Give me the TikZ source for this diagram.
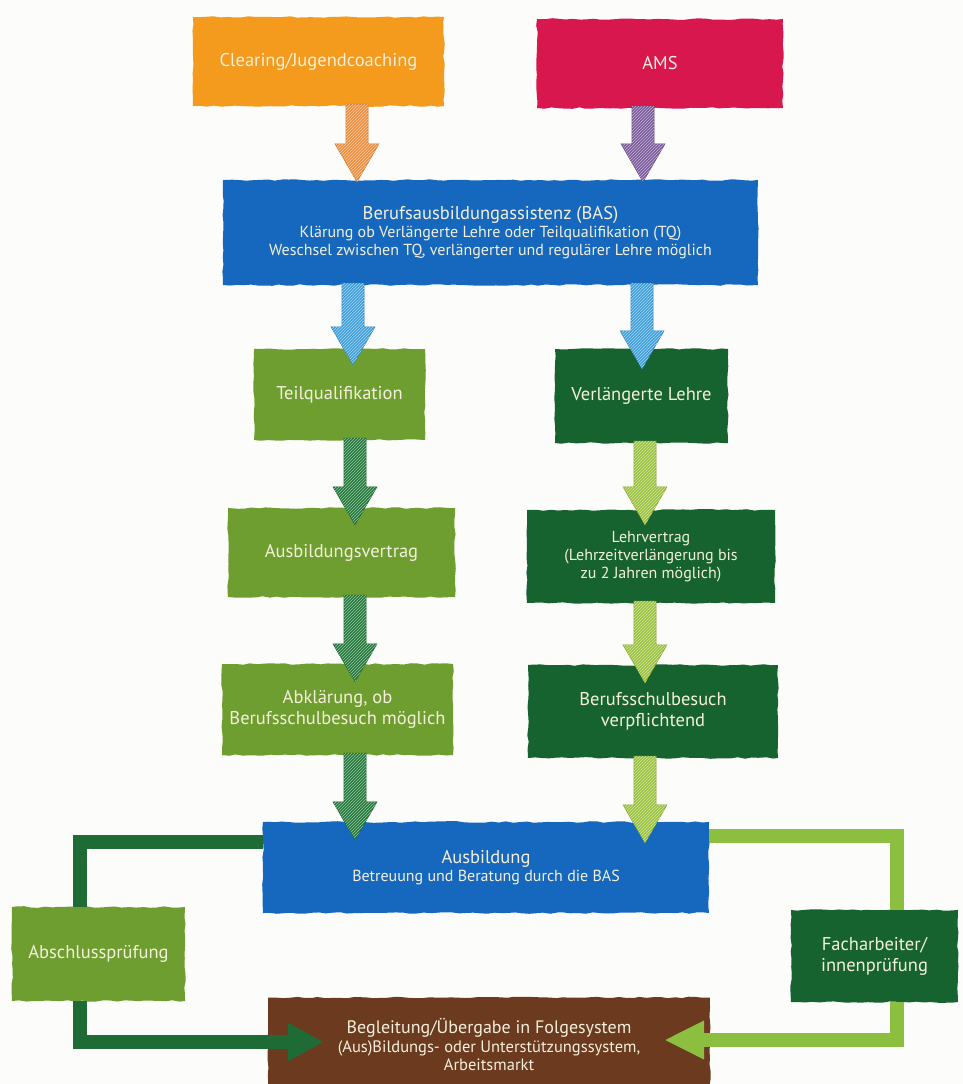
\documentclass[tikz,border=0pt]{standalone}
\usepackage{fontspec}
\setmainfont{PT Sans}
\usetikzlibrary{arrows.meta,calc,patterns,decorations.pathmorphing}
\definecolor{cBg}{HTML}{FCFCFA}
\definecolor{cText}{HTML}{F4F0DC}
\definecolor{cOrange}{HTML}{F49A1C}
\definecolor{cMagenta}{HTML}{D8174F}
\definecolor{cBlue}{HTML}{1667BE}
\definecolor{cLight}{HTML}{6E9E30}
\definecolor{cDark}{HTML}{17632F}
\definecolor{cBrown}{HTML}{6B3A1F}
\definecolor{aOrange}{HTML}{EE8E3E}
\definecolor{aPurple}{HTML}{7B5B9C}
\definecolor{aBlue}{HTML}{3E9FDA}
\definecolor{aDark}{HTML}{247A3C}
\definecolor{aLight}{HTML}{9CC23E}
\definecolor{lDark}{HTML}{1E6B35}
\definecolor{lLight}{HTML}{8CBF3F}
\newcommand\titf{\fontsize{18.5}{21}\selectfont}
\newcommand\subf{\fontsize{16}{18}\selectfont}
\newcommand\midf{\fontsize{16.5}{18.5}\selectfont}
\tikzset{
  box/.style={rectangle, inner sep=2pt, align=center, text=cText, font=\titf,
    decorate, decoration={random steps, segment length=7pt, amplitude=0.8pt}},
  loopline/.style={line width=14pt, line join=miter, line cap=butt},
}
\newcommand\fatarrow[4]{%
  \path[fill=#1, draw=#1!85!black, line width=0.6pt,
        postaction={pattern=north east lines, pattern color=white!55!#1}]
    let \p1=(#2), \p2=(#3) in
    (\x1-11,\y1+2) -- (\x1-11,\y2-#4+38) -- (\x1-22,\y2-#4+38) -- (\x1,\y2-#4)
    -- (\x1+22,\y2-#4+38) -- (\x1+11,\y2-#4+38) -- (\x1+11,\y1+2) -- cycle;}
\begin{document}
\begin{tikzpicture}[x=1pt,y=-1pt]
\useasboundingbox (0,0) rectangle (963,1084);
\fill[cBg] (0,0) rectangle (963,1084);

% boxes
\node[box, fill=cOrange, minimum width=251pt, minimum height=89pt] (clear) at (318.5,61.5) {Clearing/Jugendcoaching};
\node[box, fill=cMagenta, minimum width=246pt, minimum height=89pt] (ams) at (660,63.5) {AMS};
\node[box, fill=cBlue, minimum width=535pt, minimum height=105pt, font=\subf] (bas) at (490.5,232.5)
  {{\titf Berufsausbildungassistenz (BAS)}\\Klärung ob Verlängerte Lehre oder Teilqualifikation (TQ)\\Weschsel zwischen TQ, verlängerter und regulärer Lehre möglich};
\node[box, fill=cLight, minimum width=171pt, minimum height=91pt] (teil) at (339.5,394.5) {Teilqualifikation};
\node[box, fill=cDark, minimum width=173pt, minimum height=94pt] (verl) at (641.5,396) {Verlängerte Lehre};
\node[box, fill=cLight, minimum width=227pt, minimum height=89pt] (ausbv) at (341.5,552.5) {Ausbildungsvertrag};
\node[box, fill=cDark, minimum width=248pt, minimum height=93pt, font=\subf] (lehrv) at (651,556.5)
  {Lehrvertrag\\(Lehrzeitverlängerung bis\\zu 2 Jahren möglich)};
\node[box, fill=cLight, minimum width=231pt, minimum height=91pt] (abkl) at (337.5,709.5)
  {Abklärung, ob\\Berufsschulbesuch möglich};
\node[box, fill=cDark, minimum width=250pt, minimum height=93pt] (beruf) at (653,711.5)
  {Berufsschulbesuch\\verpflichtend};
\node[box, fill=cBlue, minimum width=446pt, minimum height=91pt, font=\subf] (ausb) at (486,867.5)
  {{\titf Ausbildung}\\Betreuung und Beratung durch die BAS};
\node[box, fill=cLight, minimum width=173pt, minimum height=94pt] (absch) at (98.5,954) {Abschlussprüfung};
\node[box, fill=cDark, minimum width=167pt, minimum height=92pt] (fach) at (874.5,956)
  {Facharbeiter/\\innenprüfung};
\node[box, fill=cBrown, minimum width=442pt, minimum height=95pt, font=\midf] (begl) at (489,1045)
  {{\fontsize{18}{20}\selectfont Begleitung/Übergabe in Folgesystem}\\(Aus)Bildungs- oder Unterstützungssystem,\\Arbeitsmarkt};

% loop connectors
\coordinate (L1) at (80,842);
\coordinate (L2) at (80,1042);
\coordinate (R1) at (897,836);
\coordinate (R2) at (897,1040);
\draw[loopline, lDark] (ausb.west |- L1) -- (L1) -- (L1 |- absch.north);
\draw[loopline, lDark, -{Triangle[length=36pt 0, width=36pt 0]}, shorten >=-56pt]
  (L1 |- absch.south) -- (L2) -- (L2 -| begl.west);
\draw[loopline, lLight] (ausb.east |- R1) -- (R1) -- (R1 |- fach.north);
\draw[loopline, lLight, -{Triangle[length=40pt 0, width=36pt 0]}, shorten >=-46pt]
  (R1 |- fach.south) -- (R2) -- (R2 -| begl.east);

% fat arrows
\coordinate (xo) at (357,0);
\coordinate (xp) at (643,0);
\coordinate (xbl) at (353,0);
\coordinate (xbr) at (642,0);
\coordinate (xl) at (355,0);
\coordinate (xr) at (645,0);
\fatarrow{aOrange}{clear.south -| xo}{bas.north -| xo}{2}
\fatarrow{aPurple}{ams.south -| xp}{bas.north -| xp}{2}
\fatarrow{aBlue}{bas.south -| xbl}{teil.north -| xbl}{16}
\fatarrow{aBlue}{bas.south -| xbr}{verl.north -| xbr}{20}
\fatarrow{aDark}{teil.south -| xl}{ausbv.north -| xl}{17}
\fatarrow{aLight}{verl.south -| xr}{lehrv.north -| xr}{15}
\fatarrow{aDark}{ausbv.south -| xl}{abkl.north -| xl}{18}
\fatarrow{aLight}{lehrv.south -| xr}{beruf.north -| xr}{18}
\fatarrow{aDark}{abkl.south -| xl}{ausb.north -| xl}{18}
\fatarrow{aLight}{beruf.south -| xr}{ausb.north -| xr}{21}
\end{tikzpicture}
\end{document}
